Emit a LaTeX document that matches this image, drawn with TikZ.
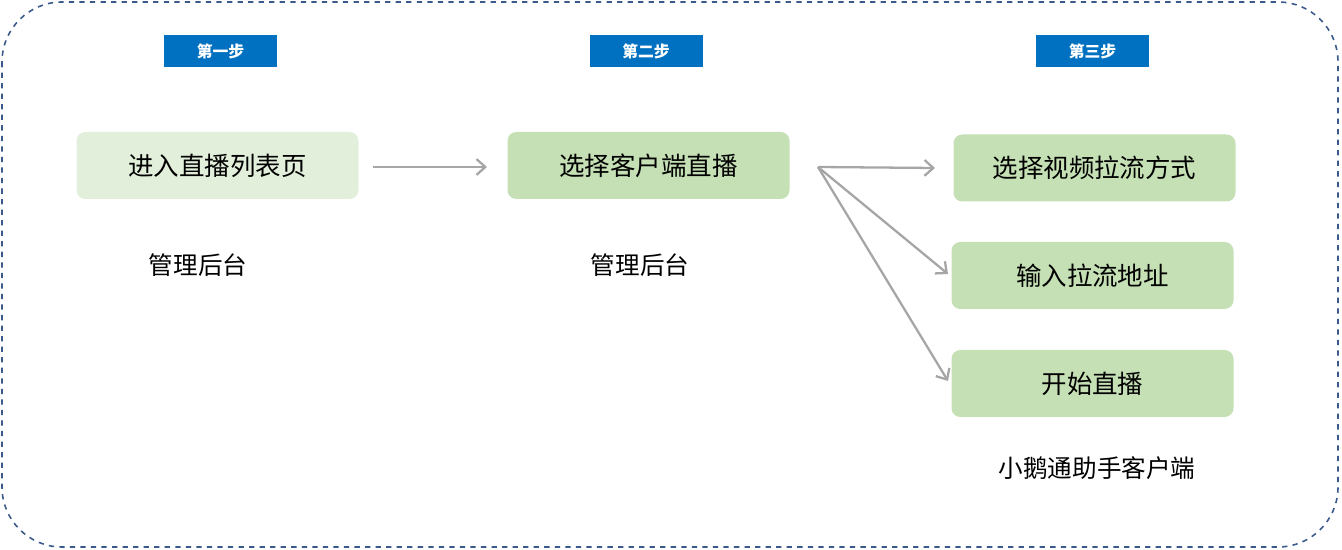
\documentclass[tikz,border=0pt]{standalone}
\usepackage{fontspec}
\setmainfont{Noto Sans CJK SC}
\usetikzlibrary{arrows.meta}
\definecolor{frameblue}{HTML}{3A5A8C}
\definecolor{stepblue}{HTML}{0070C0}
\definecolor{lightgreen}{HTML}{E2EFDA}
\definecolor{midgreen}{HTML}{C5E0B4}
\definecolor{arrowgray}{HTML}{A6A6A6}
\begin{document}
\begin{tikzpicture}[x=0.02cm,y=-0.02cm,
  stepbox/.style={fill=stepblue,text=white,font=\fontsize{9}{10}\selectfont\bfseries,minimum width=113*0.02cm,minimum height=32*0.02cm,inner sep=0},
  task/.style={rounded corners=5pt,minimum width=282*0.02cm,minimum height=67*0.02cm,font=\fontsize{14.5}{16}\selectfont,inner sep=0},
  lbl/.style={font=\fontsize{14}{16}\selectfont,inner sep=0},
  arr/.style={draw=arrowgray,line width=1.3pt,-{Straight Barb[length=5pt,width=9pt]}}]
\useasboundingbox (0,0) rectangle (1342,550);
\draw[frameblue,dashed,line width=0.9pt,rounded corners=60*0.02cm] (2,2) rectangle (1338,547);
\node[stepbox] (s1) at (220.5,51) {第一步};
\node[stepbox] (s2) at (646,51) {第二步};
\node[stepbox] (s3) at (1092.5,51) {第三步};
\node[task,fill=lightgreen] (a) at (217.5,165.5) {进入直播列表页};
\node[task,fill=midgreen] (b) at (648.5,165.5) {选择客户端直播};
\node[task,fill=midgreen] (c) at (1094.5,168) {选择视频拉流方式};
\node[task,fill=midgreen] (d) at (1092.5,275.5) {输入拉流地址};
\node[task,fill=midgreen] (e) at (1092.5,383.5) {开始直播};
\node[lbl] (l1) at (198,265) {管理后台};
\node[lbl] (l2) at (640,265) {管理后台};
\node[lbl] (l3) at (1097,468) {小鹅通助手客户端};
\coordinate (f0) at (373,167);
\coordinate (f1) at (487,167);
\coordinate (fork) at (818,167);
\coordinate (tc) at (935,168);
\coordinate (td) at (948,274);
\coordinate (te) at (948,381);
\draw[arr] (f0) -- (f1);
\draw[arr] (fork) -- (tc);
\draw[arr] (fork) -- (td);
\draw[arr] (fork) -- (te);
\end{tikzpicture}
\end{document}
